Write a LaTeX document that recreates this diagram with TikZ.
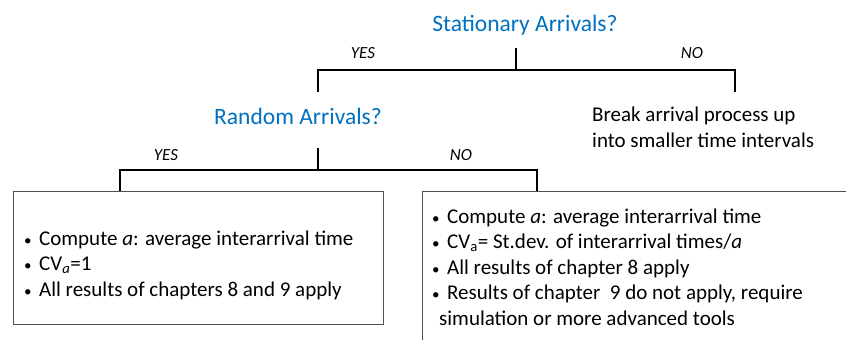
\documentclass[tikz,border=0pt]{standalone}
\usepackage{fontspec}
\setmainfont{Carlito}
\usetikzlibrary{positioning}
\definecolor{questionblue}{RGB}{0,112,192}
\definecolor{boxgray}{RGB}{80,80,80}
\newcommand{\dotitem}{{\fontsize{15}{15}\selectfont\textbullet}\hspace{7.5pt}}

\tikzset{
  question/.style={text=questionblue, font=\fontsize{23.5}{28}\selectfont},
  answer/.style={font=\itshape\fontsize{17}{20}\selectfont},
  branch/.style={line width=1.4pt},
  answerbox/.style={draw=boxgray, line width=1pt},
  bullets/.style={align=left, font=\fontsize{21}{25.6}\selectfont, inner sep=0pt}
}

\begin{document}
\begin{tikzpicture}[x=1pt, y=-1pt]
        \useasboundingbox (0,0) rectangle (846,340);

        % Questions
        \node[question] (stationary) at (525,25) {Stationary Arrivals?};
        \node[question] (random) at (298,116) {Random Arrivals?};

        % First split
        \coordinate (stem1) at (516,48);
        \coordinate (fork1) at (516,70);
        \coordinate (yes1) at (318,92);
        \coordinate (no1) at (735,92);
        \draw[branch] (stem1) -- (fork1);
        \draw[branch] (yes1) |- (fork1) -| (no1);
        \node[answer] (yeslabel1) at (363,53) {YES};
        \node[answer] (nolabel1) at (692,53) {NO};

        % Break up into intervals
        \node[align=left, anchor=west, font=\fontsize{21}{26}\selectfont, inner sep=0pt] (breakup) at (592,127)
            {Break arrival process up\\into smaller time intervals};

        % Second split
        \coordinate (stem2) at (318,148);
        \coordinate (fork2) at (318,170);
        \coordinate (yes2) at (120,191);
        \coordinate (no2) at (537,191);
        \draw[branch] (stem2) -- (fork2);
        \draw[branch] (yes2) |- (fork2) -| (no2);
        \node[answer] (yeslabel2) at (166,155) {YES};
        \node[answer] (nolabel2) at (461,155) {NO};

        % Random arrivals box
        \node[answerbox, minimum width=370pt, minimum height=133pt, inner sep=0pt] (yesbox) at (198,257.5) {};
        \node[bullets, anchor=west] (yestext) at (24,265)
            {\dotitem Compute \textit{a}: average interarrival time\\
             \dotitem CV\textsubscript{\textit{a}}=1\\
             \dotitem All results of chapters 8 and 9 apply};

        % Non-random arrivals box (runs off the page)
        \coordinate (nocorner) at (422,191);
        \coordinate (noright) at (846,191);
        \coordinate (nobottom) at (422,340);
        \draw[answerbox] (nobottom) -- (nocorner) -- (noright);
        \node[bullets, anchor=west] (notext) at (432,267)
            {\dotitem Compute \textit{a}: average interarrival time\\
             \dotitem CV\textsubscript{a}= St.dev. of interarrival times/\textit{a}\\
             \dotitem All results of chapter 8 apply\\
             \dotitem Results of chapter\ \ 9 do not apply, require\\
             \hspace{7pt}simulation or more advanced tools};
    \end{tikzpicture}
\end{document}
